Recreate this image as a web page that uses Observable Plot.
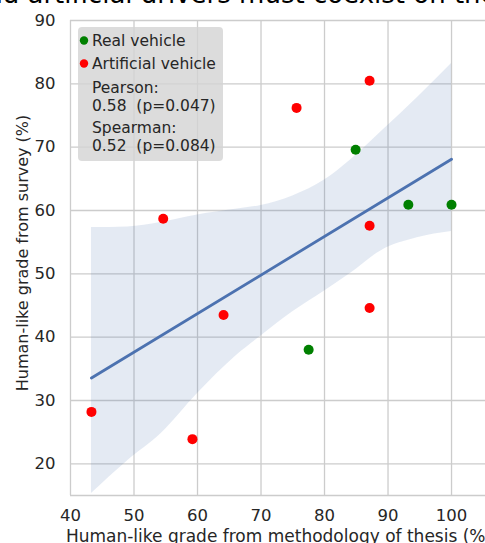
<!DOCTYPE html>
<html>
<head>
<meta charset="utf-8">
<script src="https://cdn.jsdelivr.net/npm/d3@7"></script>
<script src="https://cdn.jsdelivr.net/npm/@observablehq/plot@0.6"></script>
<style>
  html, body { margin: 0; padding: 0; background: #fff; }
  #chart svg { display: block; }
</style>
</head>
<body>
<div id="chart"></div>
<script>
// ---- data ----
const seriesNames = ["Real vehicle", "Artificial vehicle"];
const seriesColors = ["#008000", "#ff0000"];

const realX = [77.5, 84.9, 93.2, 100];
const realY = [38.0, 69.6, 60.9, 60.9];

const artX = [43.3, 54.6, 59.2, 64.1, 75.6, 87.1, 87.1, 87.1];
const artY = [28.2, 58.7, 23.9, 43.5, 76.2, 80.5, 57.6, 44.6];

// 95% confidence band of the regression
const bandX    = [43.3, 49.0, 54.2, 60.0, 66.0, 70.0, 75.0, 80.0, 84.0, 89.0, 94.6, 100];
const bandLow  = [15.3, 20.5, 24.7, 31.1, 37.0, 40.2, 44.0, 47.3, 50.0, 53.7, 55.7, 56.7];
const bandHigh = [57.3, 57.4, 58.1, 59.3, 60.2, 60.8, 62.3, 64.8, 67.9, 72.5, 77.8, 83.2];

const xTicks = [40, 50, 60, 70, 80, 90, 100];
const yTicks = [20, 30, 40, 50, 60, 70, 80, 90];

const statsLines = ["Pearson:", "0.58  (p=0.047)", "Spearman:", "0.52  (p=0.084)"];
const titleText = "nd artificial drivers must coexist on the";
const xLabel = "Human-like grade from methodology of thesis (%)";
const yLabel = "Human-like grade from survey (%)";

// ---- build table ----
const points = [
  ...realX.map((x, i) => ({x, y: realY[i], kind: seriesNames[0]})),
  ...artX.map((x, i) => ({x, y: artY[i], kind: seriesNames[1]}))
];
const band = bandX.map((x, i) => ({x, lo: bandLow[i], hi: bandHigh[i]}));

const gridStyle = {stroke: "#cccccc", strokeOpacity: 1, strokeWidth: 1.3};

const chart = Plot.plot({
  width: 485,
  height: 543,
  marginLeft: 70,
  marginRight: 0,
  marginTop: 20,
  marginBottom: 48,
  style: {fontFamily: "'DejaVu Sans', sans-serif", fontSize: "16.5px", color: "#262626", background: "#ffffff"},
  x: {domain: [40, 105.35], ticks: xTicks, tickSize: 0, tickPadding: 14, label: null},
  y: {domain: [15, 90], ticks: yTicks, tickSize: 0, tickPadding: 15, label: null},
  color: {domain: seriesNames, range: seriesColors},
  marks: [
    Plot.gridX(xTicks, gridStyle),
    Plot.gridY(yTicks, gridStyle),
    Plot.ruleY([15], gridStyle),
    Plot.areaY(band, {x: "x", y1: "lo", y2: "hi", fill: "#4C72B0", fillOpacity: 0.15, curve: "monotone-x"}),
    Plot.linearRegressionY(points, {x: "x", y: "y", ci: 0, stroke: "#4C72B0", strokeWidth: 2.8}),
    Plot.dot(points, {x: "x", y: "y", fill: "kind", r: 5}),
    Plot.text([xLabel], {frameAnchor: "bottom", text: d => d, dx: 1, dy: 46.5,
      textAnchor: "middle", lineAnchor: "bottom", fontSize: 17, fill: "#262626"}),
    Plot.text([yLabel], {frameAnchor: "left", text: d => d, dx: -48, dy: -5, rotate: -90,
      textAnchor: "middle", lineAnchor: "middle", fontSize: 16, fill: "#262626"}),
    Plot.text([titleText], {frameAnchor: "top-left", text: d => d, dx: -84.3, dy: -18,
      textAnchor: "start", lineAnchor: "bottom", fontSize: 26, fill: "#000000"})
  ]
});

document.getElementById("chart").appendChild(chart);

// ---- legend / stats box ----
const svg = d3.select(chart);
const g = svg.append("g")
  .attr("font-family", "'DejaVu Sans', sans-serif")
  .attr("font-size", 15.5)
  .attr("text-anchor", "start")
  .attr("fill", "#262626");
g.append("rect")
  .attr("x", 78).attr("y", 27).attr("width", 145).attr("height", 134)
  .attr("rx", 4).attr("fill", "#d3d3d3").attr("fill-opacity", 0.8);
const itemBase = [46, 69];
seriesNames.forEach((name, i) => {
  g.append("circle").attr("cx", 84).attr("cy", itemBase[i] - 5.5).attr("r", 4.2).attr("fill", seriesColors[i]);
  g.append("text").attr("x", 92).attr("y", itemBase[i]).attr("text-anchor", "start").text(name);
});
const statBase = [93, 110.5, 133, 150.5];
statsLines.forEach((line, i) => {
  g.append("text").attr("x", 92).attr("y", statBase[i]).attr("text-anchor", "start")
    .style("white-space", "pre").text(line);
});
</script>
</body>
</html>
